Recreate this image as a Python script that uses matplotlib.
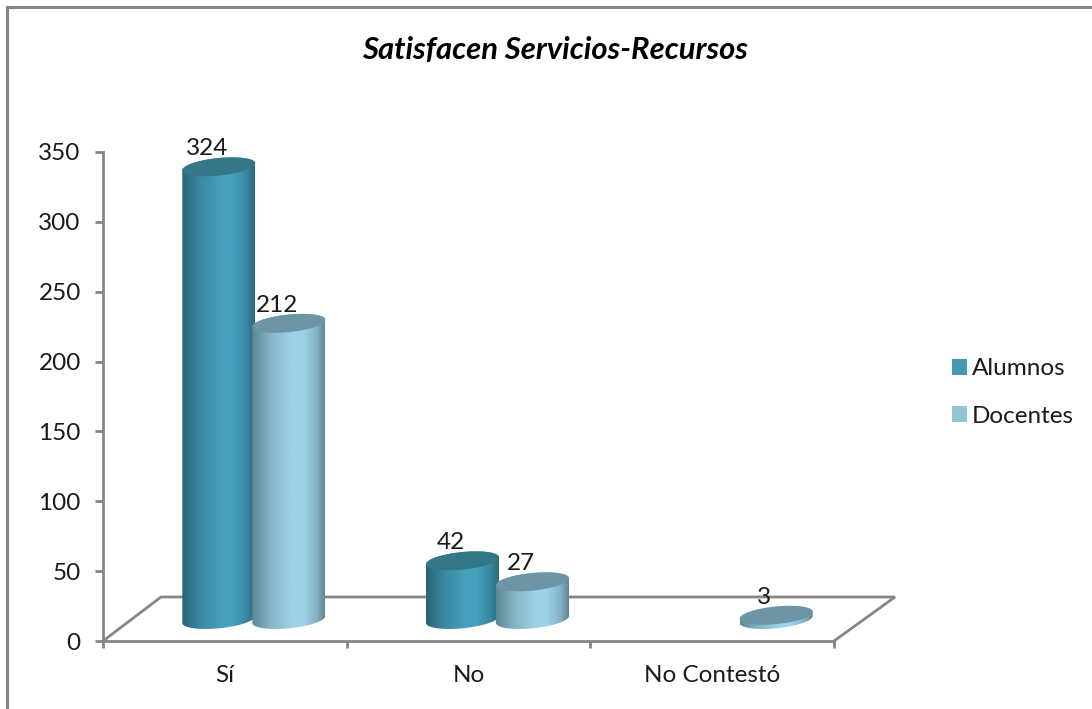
import numpy as np
import matplotlib
matplotlib.use('Agg')
import matplotlib.pyplot as plt
from matplotlib.colors import LinearSegmentedColormap
from matplotlib.lines import Line2D
from matplotlib.patches import Patch, Polygon

categorias = ['Sí', 'No', 'No Contestó']
alumnos = [324, 42, None]
docentes = [212, 27, 3]
y_ticks = [0, 50, 100, 150, 200, 250, 300, 350]

GRIS = '#868686'
TEXTO = '#1a1a1a'
plt.rcParams['font.family'] = ['Lato', 'DejaVu Sans']

W, H = 1092, 709
fig = plt.figure(figsize=(W / 100, H / 100), dpi=100, facecolor='white')

# plano frontal del grafico 3D: x de 103 a 834 px, y de 641 a 152 px
ax = fig.add_axes([103 / W, (H - 641) / H, 731 / W, 489 / H])
ax.set_xlim(0, 3)
ax.set_ylim(0, 350)
ax.patch.set_alpha(0)

px_x = 3 / 731
px_y = 350 / 489


def a_datos(x, y):
    # pixeles de la figura a coordenadas del eje
    return (np.asarray(x) - 103) * px_x, (641 - np.asarray(y)) * px_y


def cilindro(cat, desp, valor, colores, tapa):
    # radio y perspectiva de la elipse, todo en pixeles
    a, b, k = 36.5, 8.8, 0.095
    cx = cat + 0.5 + (29 + desp) * px_x
    y_base = 21.5 * px_y
    y_top = y_base + valor

    t = np.linspace(0, 2 * np.pi, 120)
    ex = a * np.cos(t) * px_x
    ey = (b * np.sin(t) + k * a * np.cos(t)) * px_y

    # cuerpo: mitad inferior de la base + mitad superior de la tapa
    t1 = np.linspace(np.pi, 2 * np.pi, 60)
    bx = cx + a * np.cos(t1) * px_x
    by = y_base + (b * np.sin(t1) + k * a * np.cos(t1)) * px_y
    t2 = np.linspace(0, np.pi, 60)
    sx = cx + a * np.cos(t2) * px_x
    sy = y_top + (b * np.sin(t2) + k * a * np.cos(t2)) * px_y
    cuerpo = Polygon(np.column_stack([np.r_[bx, sx], np.r_[by, sy]]),
                     closed=True, fc='none', ec='none', zorder=3 + desp * 0.01)
    ax.add_patch(cuerpo)

    cmap = LinearSegmentedColormap.from_list('c', colores)
    img = ax.imshow(np.linspace(0, 1, 256).reshape(1, -1), cmap=cmap, aspect='auto',
                    extent=[cx - a * px_x, cx + a * px_x, 0, y_top + 20],
                    zorder=3 + desp * 0.01, interpolation='bilinear')
    img.set_clip_path(cuerpo)

    ax.add_patch(Polygon(np.column_stack([cx + ex, y_top + ey]), closed=True,
                         fc=tapa, ec='none', zorder=3.1 + desp * 0.01))
    ax.annotate(str(valor), (cx, y_top), xytext=(-12, 18), textcoords='offset pixels',
                ha='center', va='center', fontsize=17.5, color=TEXTO, zorder=6)


grad_alumnos = [(0, '#2a6478'), (0.25, '#3a88a2'), (0.55, '#46a0bb'), (0.7, '#46a0bb'),
                (0.88, '#3a88a2'), (1, '#2b6a7c')]
grad_docentes = [(0, '#5d8595'), (0.25, '#86b4c7'), (0.55, '#9ed2e8'), (0.7, '#9ed2e8'),
                 (0.88, '#86b4c7'), (1, '#5f8594')]

for i in range(len(categorias)):
    if alumnos[i] is not None:
        cilindro(i, -35, alumnos[i], grad_alumnos, '#337789')
    if docentes[i] is not None:
        cilindro(i, 35, docentes[i], grad_docentes, '#6c95a6')

ax.set_xlim(0, 3)
ax.set_ylim(0, 350)

# piso en perspectiva
fx, fy = a_datos([103, 161, 895, 834], [641, 597, 597, 641])
ax.plot(fx, fy, color=GRIS, lw=2, clip_on=False, zorder=1, solid_joinstyle='miter')

for lado in ['top', 'right']:
    ax.spines[lado].set_visible(False)
for lado in ['left', 'bottom']:
    ax.spines[lado].set_color(GRIS)
    ax.spines[lado].set_linewidth(2)

ax.set_yticks(y_ticks)
ax.set_xticks([0, 1, 2, 3])
ax.set_xticklabels([])
ax.set_xticks([0.5, 1.5, 2.5], minor=True)
ax.set_xticklabels(categorias, minor=True)
ax.tick_params(axis='x', which='major', length=5, width=2, color=GRIS)
ax.tick_params(axis='x', which='minor', length=0, pad=17, labelsize=17.5, labelcolor=TEXTO)
ax.tick_params(axis='y', length=6, width=2, color=GRIS, pad=10, labelsize=17.5, labelcolor=TEXTO)

fig.text(555 / W, 1 - 50 / H, 'Satisfacen Servicios-Recursos', ha='center', va='center',
         fontsize=22.3, fontweight='bold', fontstyle='italic', color='black')

leyenda = [Patch(fc='#4299b3', label='Alumnos'), Patch(fc='#92c4d6', label='Docentes')]
fig.legend(handles=leyenda, loc='center left', bbox_to_anchor=(930 / W, 1 - 392.5 / H),
           frameon=False, fontsize=17.5, handlelength=0.62, handleheight=0.62,
           handletextpad=0.2, labelspacing=1.08, labelcolor=TEXTO)

# marco exterior del area del grafico
fig.add_artist(Line2D([7 / W, 7 / W, 1], [0, 1 - 7 / H, 1 - 7 / H], color=GRIS, lw=2.2,
                      transform=fig.transFigure, solid_joinstyle='miter'))

plt.savefig('out.png', dpi=100)
